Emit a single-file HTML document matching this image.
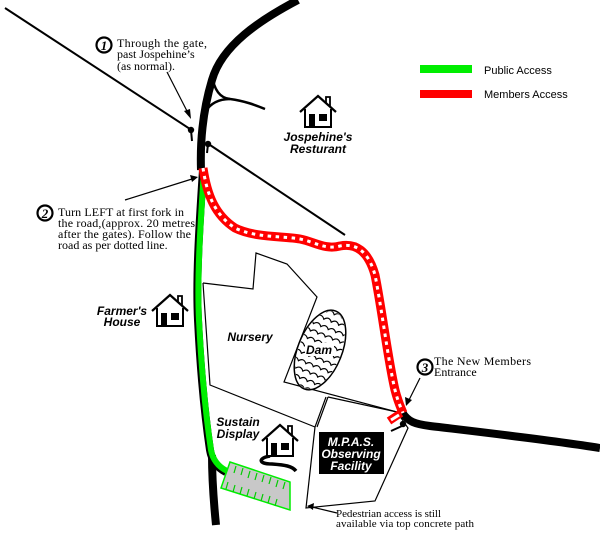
<!DOCTYPE html>
<html><head><meta charset="utf-8"><style>html,body{margin:0;padding:0;background:#fff}svg{display:block}</style></head>
<body>
<svg width="600" height="554" viewBox="0 0 600 554" xmlns="http://www.w3.org/2000/svg">
<defs>
<g id="house">
<path d="M0,17 L18,1 L36,17" fill="none" stroke="#000" stroke-width="2.2"/>
<path d="M26,8 V2 H30 V12" fill="none" stroke="#000" stroke-width="1.8"/>
<path d="M5,14 V32 H31 V14" fill="#fff" stroke="#000" stroke-width="2"/>
<rect x="9" y="19" width="6" height="13" fill="#000"/>
<rect x="19" y="19" width="8" height="7" fill="#000"/>
</g>
</defs>
<line x1="5" y1="8" x2="190" y2="129" stroke="#000" stroke-width="2"/>
<line x1="210" y1="145" x2="345" y2="235" stroke="#000" stroke-width="2"/>
<g fill="none" stroke="#000" stroke-width="1.2">
<path d="M203,283 L253,289 L256,253 L287,264 L317,297 L284,382 L397,412"/>
<path d="M203,283 L210,385 L315,427"/>
<path d="M326,397 L315,427 M328,397 L317,427"/>
<path d="M328,397 L397,412 L408,428 L375,501 L306,508 L315,427"/>
</g>
<g transform="rotate(22 320 350)">
<ellipse cx="320" cy="350" rx="22" ry="42" fill="#fff" stroke="#000" stroke-width="1.5"/>
<clipPath id="dc"><ellipse cx="320" cy="350" rx="21" ry="41"/></clipPath>
<g clip-path="url(#dc)" fill="none" stroke="#000" stroke-width="1.2">
<path id="w" d="M296,312 q4,-5 8,0 q4,-5 8,0 q4,-5 8,0 q4,-5 8,0 q4,-5 8,0 q4,-5 8,0"/>
<use href="#w" y="8"/><use href="#w" y="16"/><use href="#w" y="24"/><use href="#w" y="32"/><use href="#w" y="40"/><use href="#w" y="48"/><use href="#w" y="56"/><use href="#w" y="64"/><use href="#w" y="72"/><use href="#w" y="80"/>
</g>
</g>
<rect x="305" y="343" width="29" height="13" fill="#fff"/>
<text x="319" y="354" font-family="Liberation Sans, sans-serif" font-size="12" font-weight="bold" font-style="italic" text-anchor="middle">Dam</text>
<path d="M230,462 L290,482 L290,510 L221,488 Z" fill="#c8c8c8" stroke="#00ee00" stroke-width="1.5"/>
<g stroke="#00cc00" stroke-width="1.2">
<path d="M236,466 l-2,7 M243,468 l-2,7 M250,471 l-2,7 M257,473 l-2,7 M264,475 l-2,7 M271,477 l-2,7 M278,480 l-2,7 M285,482 l-2,7"/>
<path d="M228,482 l-2,7 M235,485 l-2,7 M242,487 l-2,7 M249,489 l-2,7 M256,492 l-2,7 M263,494 l-2,7 M270,496 l-2,7 M277,499 l-2,7"/>
</g>
<path d="M298,0 C260,20 222,45 212,80 C203,110 200,140 201,170" fill="none" stroke="#000" stroke-width="8"/>
<path d="M212,75 C214,90 220,98 230,99 C245,101 255,105 265,109" fill="none" stroke="#000" stroke-width="2.5"/>
<path d="M205,112 C210,104 218,99 230,99" fill="none" stroke="#000" stroke-width="2.5"/>
<path d="M212,455 C212,480 214,505 216,525" fill="none" stroke="#000" stroke-width="8"/>
<path d="M402,412 C408,422 415,424 430,426 C480,432 550,440 600,448" fill="none" stroke="#000" stroke-width="8"/>
<path d="M203,170 C199,230 196,280 198,320 C200,360 204,410 210,450 C212,462 218,468 226,472" fill="none" stroke="#000" stroke-width="8"/>
<path d="M204,170 C200,230 197,280 199,320 C201,360 205,410 211,450 C213,461 219,467 227,471" fill="none" stroke="#00ee00" stroke-width="6"/>
<path d="M203,168 C207,195 215,215 235,228 C255,238 285,236 300,239 C315,242 325,250 340,246 C355,243 368,250 375,275 C382,310 388,360 395,390 C398,402 401,408 403,413" fill="none" stroke="#ff0000" stroke-width="9"/>
<path d="M203,168 C207,195 215,215 235,228 C255,238 285,236 300,239 C315,242 325,250 340,246 C355,243 368,250 375,275 C382,310 388,360 395,390 C398,402 401,408 403,413" fill="none" stroke="#fff" stroke-width="3" stroke-dasharray="3.5 4.5"/>
<path d="M389,421 L401,413" stroke="#ff0000" stroke-width="8" fill="none"/>
<path d="M391,420 L399,415" stroke="#fff" stroke-width="3" fill="none"/>
<circle cx="191" cy="130" r="3.2"/><line x1="191" y1="130" x2="192" y2="141" stroke="#000" stroke-width="2"/>
<circle cx="208" cy="144" r="3.2"/><line x1="208" y1="144" x2="207" y2="153" stroke="#000" stroke-width="2"/>
<circle cx="403" cy="424" r="3.2"/><line x1="391" y1="431" x2="402" y2="426" stroke="#000" stroke-width="2"/>
<path d="M270,456 C258,458 258,464 272,464 C285,465 292,466 296,471" fill="none" stroke="#000" stroke-width="3.5"/>
<use href="#house" x="300" y="95"/>
<use href="#house" x="152" y="294"/>
<use href="#house" x="262" y="424"/>
<rect x="319" y="432" width="65" height="42" fill="#000"/>
<g font-family="Liberation Sans, sans-serif" font-size="12" font-weight="bold" font-style="italic" text-anchor="middle">
<text x="351" y="446" fill="#fff">M.P.A.S.</text>
<text x="351" y="458" fill="#fff">Observing</text>
<text x="351" y="470" fill="#fff">Facility</text>
<text x="318" y="141">Jospehine's</text>
<text x="318" y="153">Resturant</text>
<text x="122" y="315">Farmer's</text>
<text x="122" y="326">House</text>
<text x="250" y="341">Nursery</text>
<text x="238" y="426">Sustain</text>
<text x="238" y="438">Display</text>
</g>
<rect x="420" y="65" width="52" height="8" fill="#00ee00"/>
<rect x="420" y="90" width="52" height="8" fill="#ff0000"/>
<g font-family="Liberation Sans, sans-serif" font-size="11">
<text x="484" y="74">Public Access</text>
<text x="484" y="98">Members Access</text>
</g>
<g font-family="Liberation Serif, serif" font-size="12">
<text x="117" y="47" textLength="90">Through the gate,</text>
<text x="117" y="58">past Jospehine’s</text>
<text x="117" y="70">(as normal).</text>
<text x="58" y="216" textLength="126">Turn LEFT at first fork in</text>
<text x="58" y="227" textLength="137">the road,(approx. 20 metres</text>
<text x="58" y="238" textLength="133">after the gates). Follow the</text>
<text x="58" y="249">road as per dotted line.</text>
<text x="434" y="365" textLength="97">The New Members</text>
<text x="434" y="376">Entrance</text>
</g>
<g font-family="Liberation Serif, serif" font-size="11">
<text x="336" y="517" textLength="105">Pedestrian access is still</text>
<text x="336" y="527" textLength="138">available via top concrete path</text>
</g>
<g fill="none" stroke="#000" stroke-width="2.2">
<circle cx="104" cy="45" r="7.5"/><circle cx="45" cy="213" r="7.5"/><circle cx="425" cy="367" r="7.5"/>
</g>
<g font-family="Liberation Serif, serif" font-size="13" font-weight="bold" font-style="italic" text-anchor="middle">
<text x="104" y="50">1</text><text x="45" y="218">2</text><text x="425" y="372">3</text>
</g>
<g stroke="#000" stroke-width="1.2">
<line x1="167" y1="72" x2="188" y2="113"/>
<line x1="125" y1="200" x2="192" y2="179"/>
<line x1="420" y1="378" x2="409" y2="400"/>
<line x1="337" y1="513" x2="312" y2="507"/>
</g>
<g fill="#000">
<path d="M191,119 L184,111 L190,109 Z"/>
<path d="M198,177 L190,175 L192,182 Z"/>
<path d="M406,406 L405,397 L412,400 Z"/>
<path d="M307,506 L314,503 L313,510 Z"/>
</g>
</svg>
</body></html>
